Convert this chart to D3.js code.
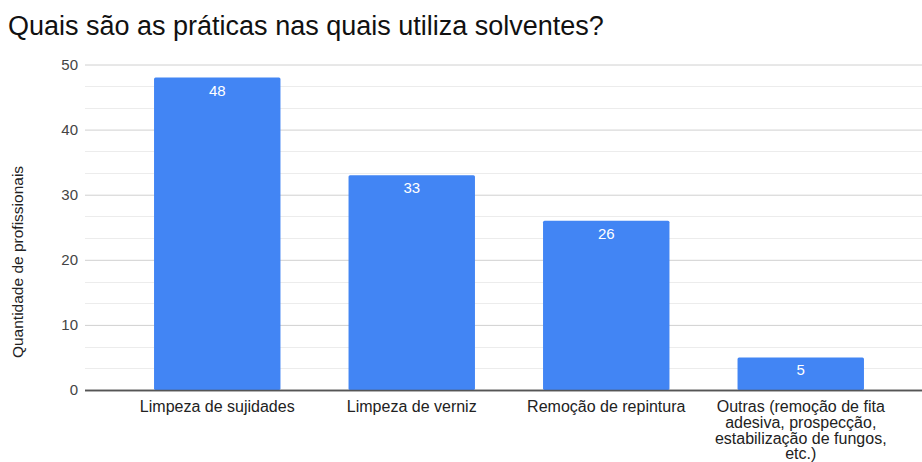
<!DOCTYPE html>
<html>
<head>
<meta charset="utf-8">
<script src="https://cdn.jsdelivr.net/npm/d3@7/dist/d3.min.js"></script>
<style>
  html, body { margin: 0; padding: 0; background: #fff; }
  svg { display: block; font-family: "Liberation Sans", Arial, sans-serif; }
</style>
</head>
<body>
<svg id="chart" width="922" height="462"></svg>
<script>
// Practices where solvents are used, count of professionals
const categories = [
  "Limpeza de sujidades",
  "Limpeza de verniz",
  "Remoção de repintura",
  "Outras (remoção de fita adesiva, prospecção, estabilização de fungos, etc.)"
];
const categoryLines = [
  ["Limpeza de sujidades"],
  ["Limpeza de verniz"],
  ["Remoção de repintura"],
  ["Outras (remoção de fita", "adesiva, prospecção,", "estabilização de fungos,", "etc.)"]
];
const values = [48, 33, 26, 5];
const yTicks = [0, 10, 20, 30, 40, 50];
const title = "Quais são as práticas nas quais utiliza solventes?";
const yTitle = "Quantidade de profissionais";

const svg = d3.select("#chart");
const plot = { left: 85, right: 922, top: 64.5, bottom: 390 };

const x = d3.scaleBand()
  .domain(categories)
  .range([120, 898])
  .paddingInner(0.35)
  .paddingOuter(0.175);

const y = d3.scaleLinear()
  .domain([0, 50])
  .range([plot.bottom, plot.top]);

// minor gridlines (thirds between major ticks)
const minor = [];
for (let i = 0; i < yTicks.length - 1; i++) {
  const a = yTicks[i], b = yTicks[i + 1];
  minor.push(a + (b - a) / 3, a + 2 * (b - a) / 3);
}
svg.append("g")
  .selectAll("line")
  .data(minor)
  .join("line")
  .attr("x1", plot.left).attr("x2", plot.right)
  .attr("y1", d => Math.round(y(d)) + 0.5).attr("y2", d => Math.round(y(d)) + 0.5)
  .attr("stroke", "#ececec").attr("stroke-width", 1);

// major gridlines + tick labels via axis
const yAxis = d3.axisLeft(y)
  .tickValues(yTicks)
  .tickSize(-(plot.right - plot.left))
  .tickPadding(7)
  .tickFormat(d3.format("d"));

const gy = svg.append("g")
  .attr("transform", `translate(${plot.left},0)`)
  .call(yAxis);
gy.select(".domain").remove();
gy.selectAll(".tick line")
  .attr("stroke", d => d === 0 ? "#444" : "#d0d0d0")
  .attr("stroke-width", d => d === 0 ? 1.3 : 1);
gy.selectAll(".tick text")
  .attr("fill", "#444")
  .attr("font-size", 15)
  .attr("font-family", "'Liberation Sans', Arial, sans-serif");

// bars
svg.append("g")
  .selectAll("rect")
  .data(values)
  .join("rect")
  .attr("x", (d, i) => x(categories[i]))
  .attr("y", d => y(d))
  .attr("width", x.bandwidth())
  .attr("height", d => y(0) - y(d))
  .attr("rx", 1.5)
  .attr("fill", "#4285f4");

// baseline drawn over the bars
svg.append("line")
  .attr("x1", plot.left).attr("x2", plot.right)
  .attr("y1", y(0) + 0.5).attr("y2", y(0) + 0.5)
  .attr("stroke", "#555").attr("stroke-width", 1.3);

// value labels inside bars
svg.append("g")
  .selectAll("text")
  .data(values)
  .join("text")
  .attr("x", (d, i) => x(categories[i]) + x.bandwidth() / 2)
  .attr("y", d => y(d) + 18)
  .attr("text-anchor", "middle")
  .attr("fill", "#fff")
  .attr("font-size", 15)
  .text(d => d);

// category labels
const gx = svg.append("g");
categories.forEach((c, i) => {
  const t = gx.append("text")
    .attr("x", x(c) + x.bandwidth() / 2)
    .attr("y", plot.bottom + 22)
    .attr("text-anchor", "middle")
    .attr("fill", "#222")
    .attr("font-size", 16);
  categoryLines[i].forEach((line, j) => {
    t.append("tspan")
      .attr("x", x(c) + x.bandwidth() / 2)
      .attr("dy", j === 0 ? 0 : 15.8)
      .text(line);
  });
});

// y-axis title
svg.append("text")
  .attr("transform", `translate(23, 262) rotate(-90)`)
  .attr("text-anchor", "middle")
  .attr("fill", "#222")
  .attr("font-size", 15.5)
  .text(yTitle);

// chart title
svg.append("text")
  .attr("x", 8)
  .attr("y", 35)
  .attr("fill", "#111")
  .attr("font-size", 27)
  .text(title);
</script>
</body>
</html>
